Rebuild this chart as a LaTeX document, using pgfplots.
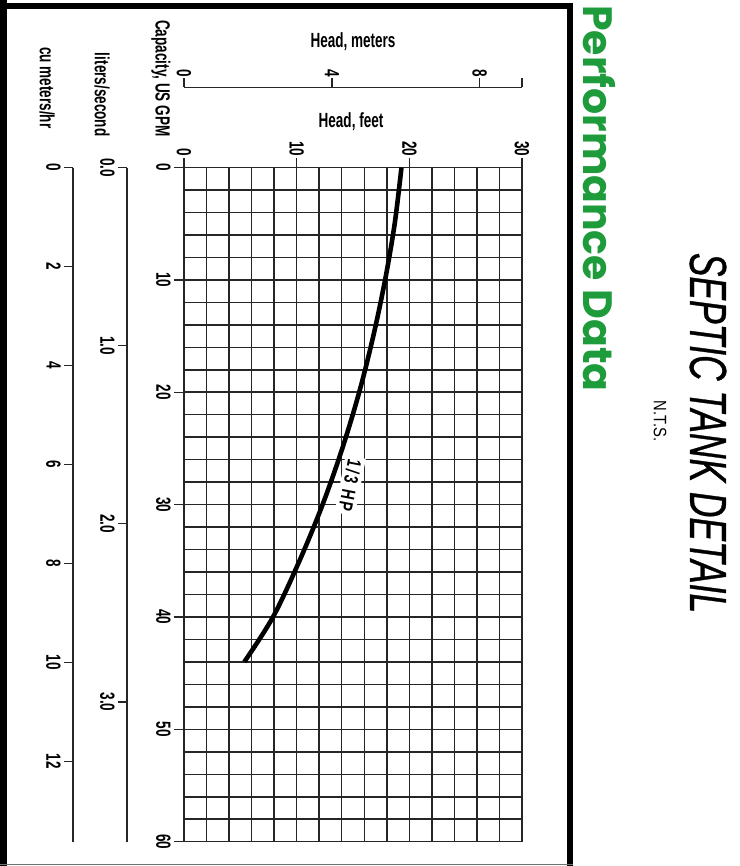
\documentclass[border=0pt]{standalone}
\usepackage{pgfplots}
\pgfplotsset{compat=1.18}
\usepackage{fontspec}
\setmainfont{Liberation Sans}
\newfontfamily\cond{Liberation Sans Bold}[FakeStretch=0.66]
\newfontfamily\hplab{Liberation Sans Bold}[FakeStretch=0.72, LetterSpace=12]
\newfontfamily\septic{Liberation Sans}[FakeStretch=0.68, FakeBold=0.6]
\newfontfamily\nts{Liberation Sans}[FakeStretch=0.82]
\newfontfamily\perf{Poppins}
\definecolor{perfgreen}{RGB}{30,155,58}
\newcommand\ticklab{\cond\fontsize{20.5}{20.5}\selectfont}
\begin{document}
\begin{tikzpicture}
\path[use as bounding box] (0pt,0pt) rectangle (739pt,-866pt);
% frame
\fill[black] (0pt,0pt) rectangle (7pt,-866pt);
\fill[black] (0pt,-3pt) rectangle (573pt,-9pt);
\fill[black] (567pt,-3pt) rectangle (573pt,-866pt);
\draw[black!55, line width=1pt] (0pt,-864.5pt) -- (573pt,-864.5pt);

% main chart: head (feet) horizontal, capacity (US GPM) vertical downward
\begin{axis}[
  at={(353pt,-504.6pt)}, anchor=center,
  scale only axis, width=338pt, height=674.2pt,
  xmin=0, xmax=30, ymin=0, ymax=60, y dir=reverse,
  xtick={0,10,20,30}, ytick={0,10,...,60},
  minor x tick num=4, minor y tick num=4,
  grid=both,
  major grid style={line width=1.5pt, draw=black!85},
  minor grid style={line width=1.5pt, draw=black!85},
  axis line style={line width=1.5pt, draw=black!85},
  tick style={line width=1.3pt, draw=black!85},
  major tick length=10pt, minor tick length=0pt,
  tick align=outside,
  xtick pos=upper, xticklabel pos=upper,
  ytick pos=left, yticklabel pos=left,
  xticklabel style={rotate=-90, anchor=east, font=\ticklab, inner sep=1pt},
  yticklabel style={rotate=-90, anchor=north, font=\ticklab, inner sep=3pt},
  /pgf/number format/assume math mode=true,
  clip=false,
]
\addplot[line width=4.6pt, black, smooth, tension=0.55] coordinates {
 (19.3,0) (18.7,5) (17.85,10) (16.8,15) (15.55,20) (14.05,25) (12.3,30) (10.25,35) (7.9,40) (5.35,44)
};
\node[rotate=-101, fill=white, inner sep=3pt, font=\hplab\fontsize{19.5}{19.5}\selectfont] at (axis cs:14.75,28.3) {1/3 HP};
\end{axis}

% head, meters axis
\begin{axis}[
  at={(353pt,-92.5pt)}, anchor=center,
  scale only axis, width=338pt, height=10pt,
  xmin=0, xmax=9.144, ymin=0, ymax=1,
  hide y axis, axis x line=top,
  x axis line style={-, line width=1.3pt, draw=black!85},
  tick style={line width=1.3pt, draw=black!85},
  xtick={0,4,8}, extra x ticks={9.144}, extra x tick labels={},
  xtick align=outside, major tick length=9pt,
  xticklabel style={rotate=-90, anchor=east, font=\ticklab, inner sep=1pt},
  /pgf/number format/assume math mode=true,
]
\end{axis}

% liters/second axis
\begin{axis}[
  at={(132pt,-504.6pt)}, anchor=center,
  scale only axis, width=10pt, height=674.2pt,
  xmin=0, xmax=1, ymin=0, ymax=3.785, y dir=reverse,
  hide x axis, axis y line=left,
  y axis line style={-, line width=1.3pt, draw=black!85},
  tick style={line width=1.3pt, draw=black!85},
  ytick={0,1,2,3},
  ytick align=outside, major tick length=9pt,
  yticklabel style={rotate=-90, anchor=north, font=\ticklab, inner sep=3pt,
    /pgf/number format/.cd, fixed, fixed zerofill, precision=1},
  /pgf/number format/assume math mode=true,
]
\end{axis}

% cu meters/hr axis
\begin{axis}[
  at={(78pt,-504.6pt)}, anchor=center,
  scale only axis, width=10pt, height=674.2pt,
  xmin=0, xmax=1, ymin=0, ymax=13.627, y dir=reverse,
  hide x axis, axis y line=left,
  y axis line style={-, line width=1.3pt, draw=black!85},
  tick style={line width=1.3pt, draw=black!85},
  ytick={0,2,...,12},
  ytick align=outside, major tick length=9pt,
  yticklabel style={rotate=-90, anchor=north, font=\ticklab, inner sep=3pt},
  /pgf/number format/assume math mode=true,
]
\end{axis}

% axis names
\node[font=\ticklab, anchor=base] at (353pt,-48pt) {Head, meters};
\node[font=\ticklab, anchor=base] at (351pt,-127.5pt) {Head, feet};
\node[font=\ticklab, rotate=-90, anchor=east] at (161pt,-140pt) {Capacity, US GPM};
\node[font=\ticklab, rotate=-90, anchor=east] at (102pt,-140pt) {liters/second};
\node[font=\ticklab, rotate=-90, anchor=east] at (47pt,-132pt) {cu meters/hr};

% titles
\node[font=\perf\bfseries\fontsize{41}{41}\selectfont, text=perfgreen, rotate=-90, anchor=west, inner sep=0pt] at (599.5pt,-5pt) {Performance Data};
\node[font=\septic\itshape\fontsize{52}{52}\selectfont, rotate=-90, anchor=center, inner sep=0pt] at (708pt,-433pt) {SEPTIC TANK DETAIL};
\node[font=\nts\fontsize{18}{18}\selectfont, rotate=-90, anchor=center, inner sep=0pt] at (660pt,-421pt) {N.T.S.};
\end{tikzpicture}
\end{document}
